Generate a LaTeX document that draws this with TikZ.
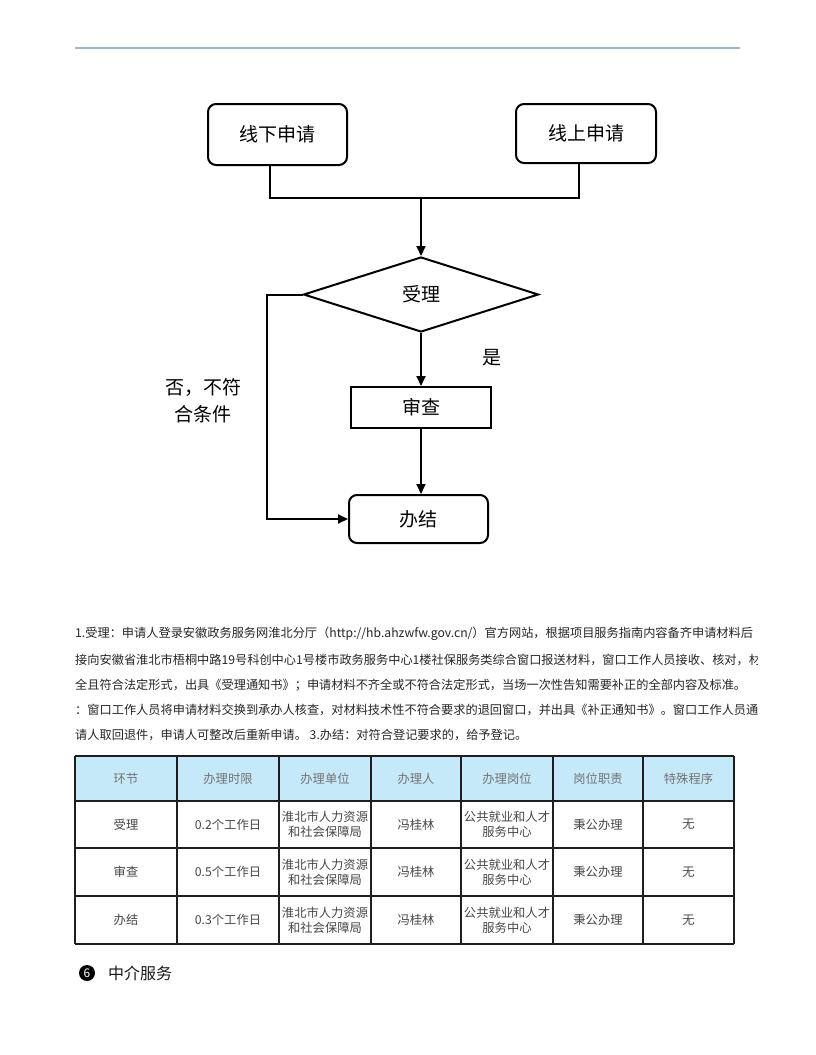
\documentclass[tikz,border=0pt]{standalone}
\usepackage{fontspec}
\setmainfont{Noto Sans CJK SC}
\usetikzlibrary{arrows.meta,shapes.geometric}
\definecolor{hdrline}{RGB}{160,180,212}
\definecolor{hdrfill}{RGB}{198,233,250}
\definecolor{gridc}{RGB}{30,30,30}
\tikzset{
  stepbox/.style={draw=black, line width=2pt, inner sep=0pt, font=\fontsize{19}{22}\selectfont},
  roundbox/.style={stepbox, rounded corners=8pt},
  decbox/.style={stepbox, shape=diamond, shape aspect=3.13, minimum width=235pt, minimum height=75pt},
  conn/.style={line width=2pt, line join=miter},
  arr/.style={conn, -{Triangle[length=10pt,width=9pt]}},
  lbl/.style={font=\fontsize{19}{27}\selectfont, align=center, inner sep=0pt},
  para/.style={anchor=west, inner sep=0pt, font=\fontsize{12.2}{14}\selectfont, text=black!85},
  cell/.style={inner sep=0pt, align=center, font=\fontsize{12.3}{15}\selectfont, text=black!72},
  hcell/.style={cell, text=black!55},
  grid/.style={draw=gridc, line width=1.5pt}
}
\begin{document}
\begin{tikzpicture}[x=1pt,y=-1pt]
\useasboundingbox (0,0) rectangle (815,1055);
\fill[white] (0,0) rectangle (815,1055);

% header rule
\draw[hdrline, line width=1.6pt] (75,48) -- (740,48);

% flowchart
\node[roundbox, minimum width=139pt, minimum height=61pt] (off) at (277.5,134.5) {线下申请};
\node[roundbox, minimum width=140pt, minimum height=59pt] (on) at (586,133.5) {线上申请};
\coordinate (j) at (421,198);
\node[decbox] (dec) at (421,294.5) {受理};
\node[stepbox, minimum width=140pt, minimum height=41pt] (chk) at (421,407.5) {审查};
\node[roundbox, minimum width=139pt, minimum height=48pt] (fin) at (418.5,519) {办结};
\coordinate (nk) at (267,294.5);

\draw[conn] ([xshift=-7.5pt]off.south) |- (j) -| ([xshift=-7pt]on.south);
\draw[arr] (j) -- (dec.north);
\draw[arr] (dec.south) -- (dec.south |- chk.north);
\draw[arr] (chk.south) -- (chk.south |- fin.north);
\draw[arr] (dec.west) -- (nk) |- (fin.west);

\node[lbl] (yes) at (492,358) {是};
\node[lbl] (no) at (203,401) {否，不符\\合条件};

% paragraph
\begin{scope}
\clip (70,620) rectangle (757,750);
\node[para] (p1) at (75,634) {1.受理：申请人登录安徽政务服务网淮北分厅（http://hb.ahzwfw.gov.cn/）官方网站，根据项目服务指南内容备齐申请材料后};
\node[para] (p2) at (75,660) {接向安徽省淮北市梧桐中路19号科创中心1号楼市政务服务中心1楼社保服务类综合窗口报送材料，窗口工作人员接收、核对，材};
\node[para] (p3) at (75,685) {全且符合法定形式，出具《受理通知书》；申请材料不齐全或不符合法定形式，当场一次性告知需要补正的全部内容及标准。};
\node[para] (p4) at (75,710) {：窗口工作人员将申请材料交换到承办人核查，对材料技术性不符合要求的退回窗口，并出具《补正通知书》。窗口工作人员通};
\node[para] (p5) at (75,735) {请人取回退件，申请人可整改后重新申请。 3.办结：对符合登记要求的，给予登记。};
\end{scope}

% table
\fill[hdrfill] (75,756) rectangle (734,801);
\foreach \yy in {756,801,848,896,944} { \draw[grid] (75,\yy) -- (734,\yy); }
\foreach \xx in {75,177,279,371,461,553,643,734} { \draw[grid] (\xx,756) -- (\xx,944); }

\node[hcell] (h1) at (126,778.5) {环节};
\node[hcell] (h2) at (228,778.5) {办理时限};
\node[hcell] (h3) at (325,778.5) {办理单位};
\node[hcell] (h4) at (416,778.5) {办理人};
\node[hcell] (h5) at (507,778.5) {办理岗位};
\node[hcell] (h6) at (598,778.5) {岗位职责};
\node[hcell] (h7) at (688.5,778.5) {特殊程序};

\foreach \nm/\tm/\yy/\rid in {受理/0.2/824.5/a, 审查/0.5/872/b, 办结/0.3/920/c} {
  \node[cell] (c1\rid) at (126,\yy) {\nm};
  \node[cell] (c2\rid) at (228,\yy) {\tm 个工作日};
  \node[cell] (c3\rid) at (325,\yy) {淮北市人力资源\\和社会保障局};
  \node[cell] (c4\rid) at (416,\yy) {冯桂林};
  \node[cell] (c5\rid) at (507,\yy) {公共就业和人才\\服务中心};
  \node[cell] (c6\rid) at (598,\yy) {秉公办理};
  \node[cell] (c7\rid) at (688.5,\yy) {无};
}

% section heading
\node[circle, fill=black, minimum size=16pt, inner sep=0pt, text=white, font=\fontsize{12}{12}\selectfont] (num) at (87,973) {6};
\node[anchor=west, inner sep=0pt, font=\fontsize{16}{18}\selectfont, text=black!90] (sec) at (108,973) {中介服务};
\end{tikzpicture}
\end{document}
